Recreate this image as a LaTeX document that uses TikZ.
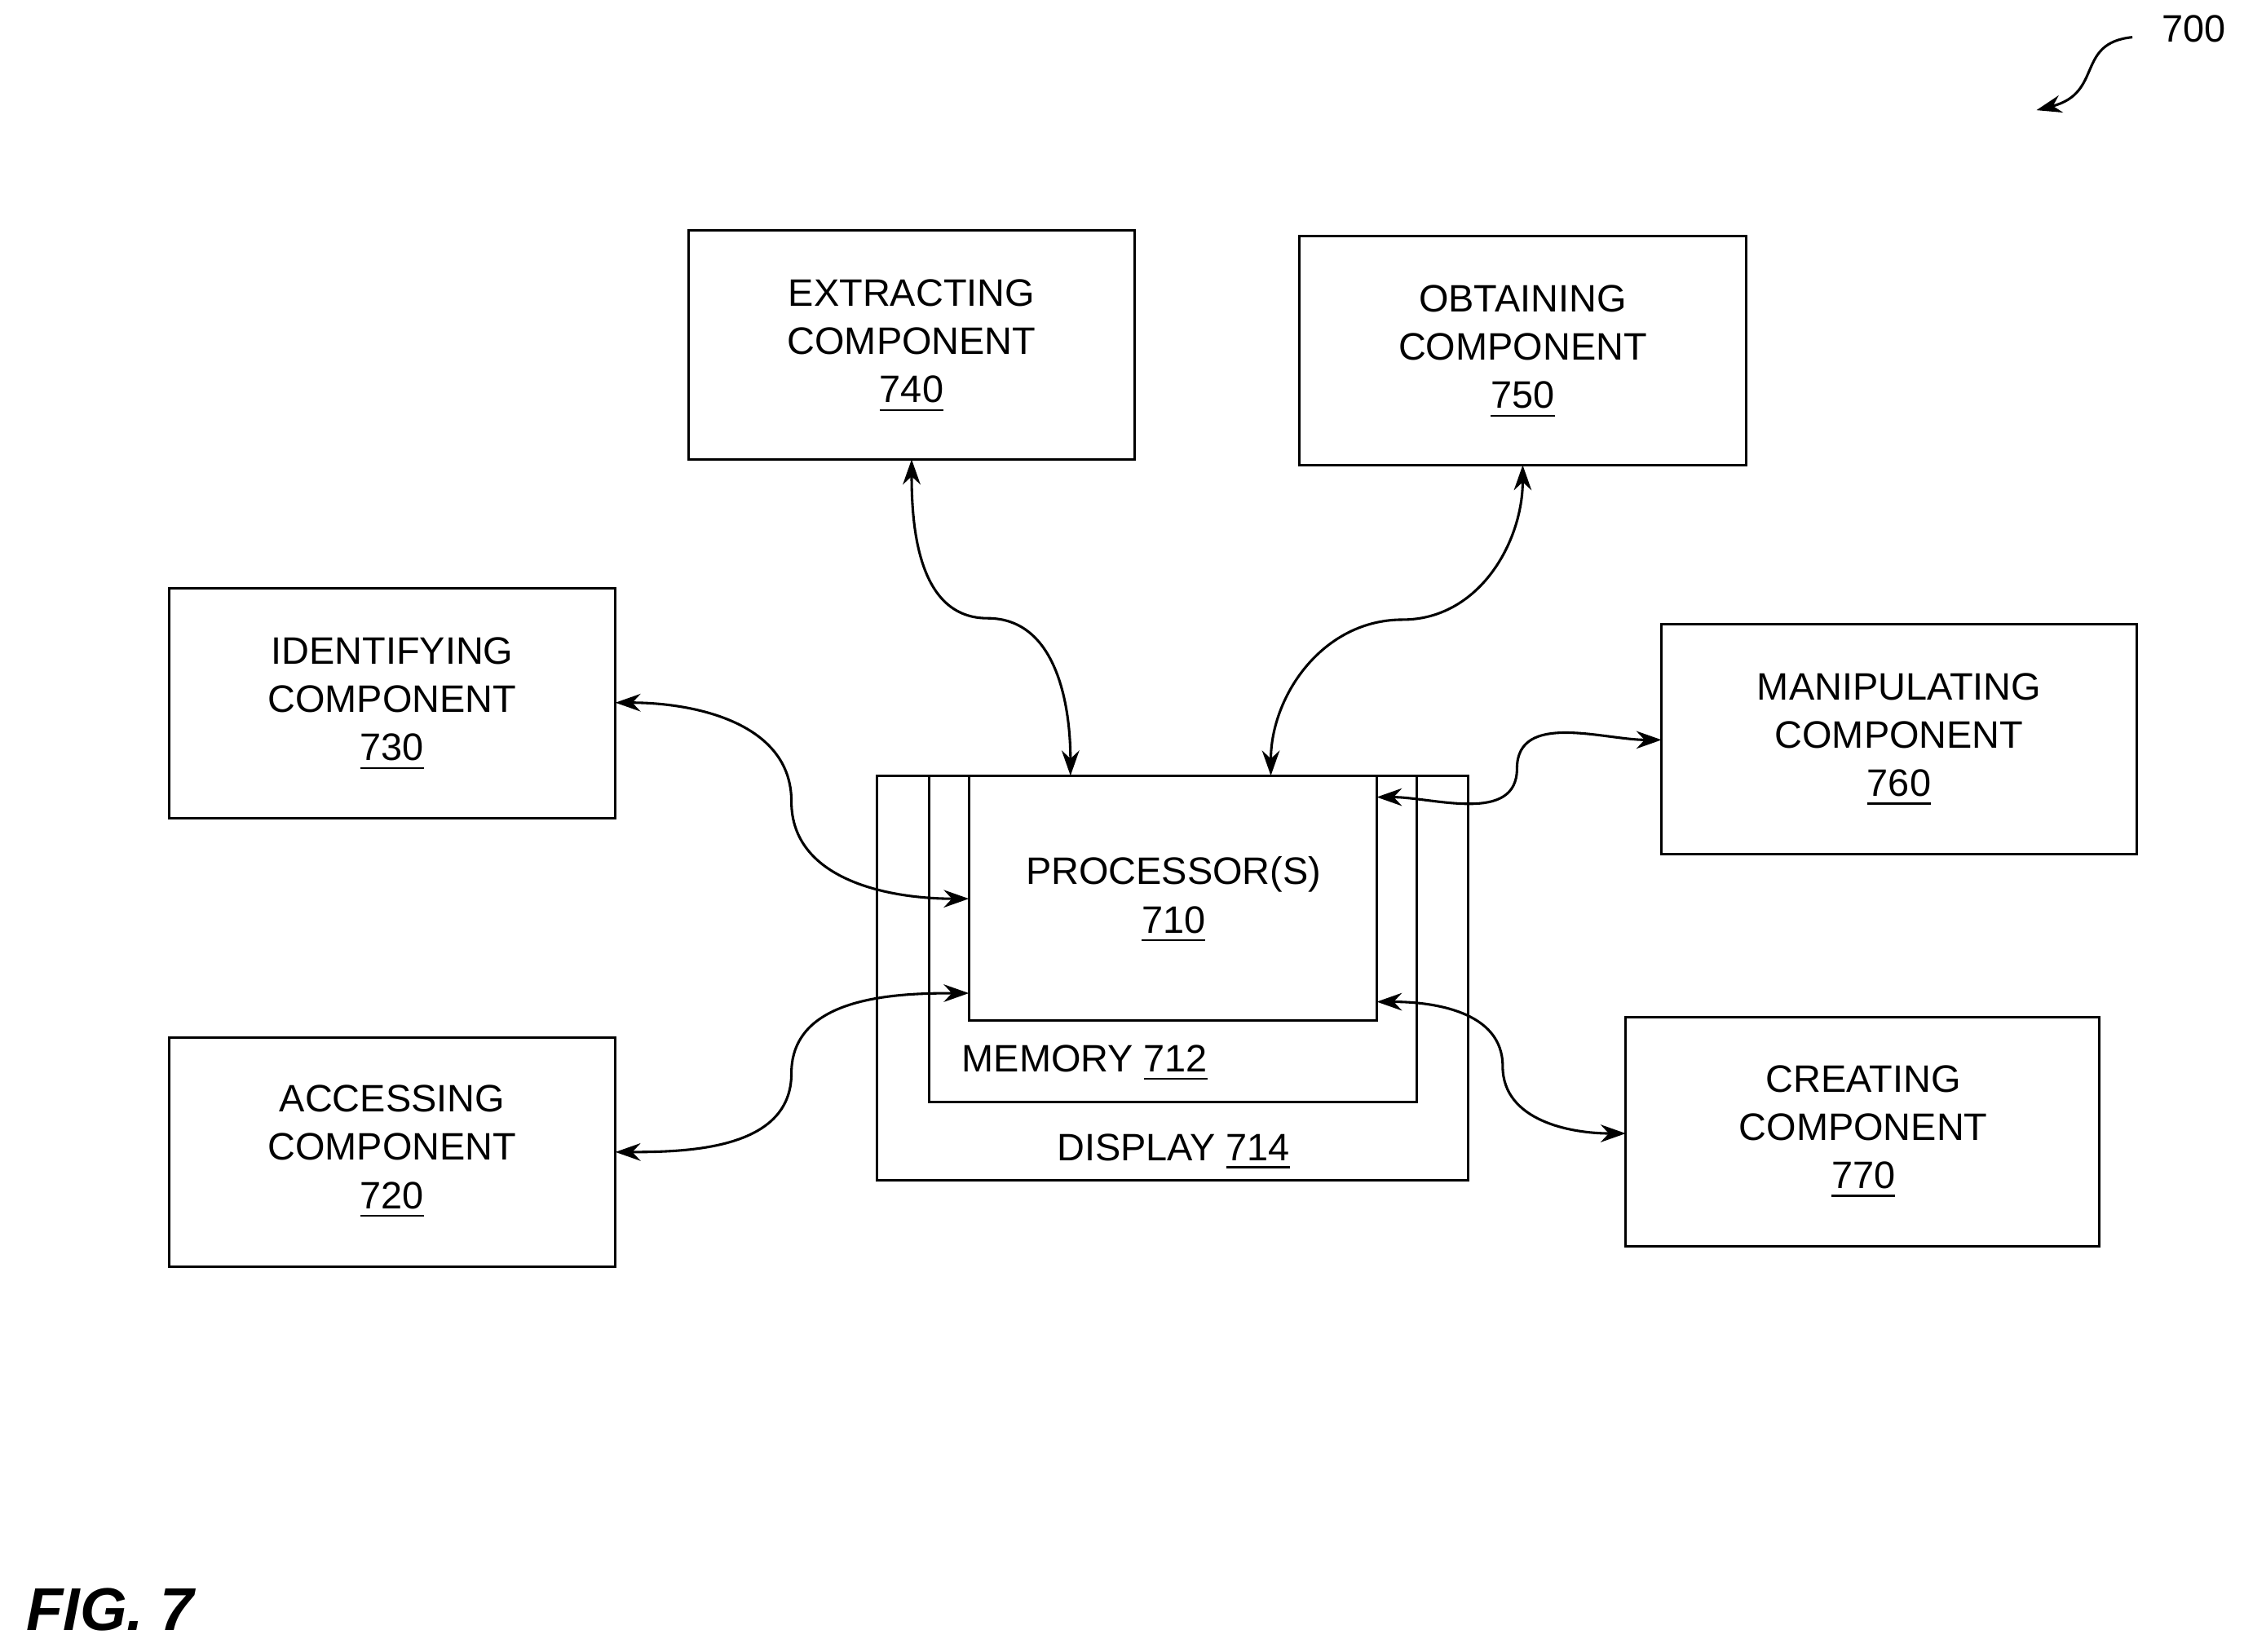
\documentclass[tikz,border=0pt]{standalone}
\usepackage{fontspec}
\setmainfont{Liberation Sans}
\usetikzlibrary{arrows.meta}
\begin{document}
\begin{tikzpicture}[x=0.1mm,y=-0.1mm,
  box/.style={draw,line width=0.5pt,inner sep=0},
  txt/.style={align=center,font=\fontsize{7.6}{9.6}\selectfont},
  con/.style={line width=0.5pt,{Stealth[length=5pt,width=3.5pt]}-{Stealth[length=5pt,width=3.5pt]}}]
\useasboundingbox (0,0) rectangle (1568,1154);
\draw[box] (613,542) rectangle (1026,825);
\draw[box] (649,542) rectangle (990,770);
\draw[box] (677,542) rectangle (962,713);
\node[txt] (p) at (820,629) {PROCESSOR(S)\\\underline{710}};
\node[txt] (m) at (758,743) {MEMORY \underline{712}};
\node[txt] (d) at (820,805) {DISPLAY \underline{714}};
\draw[box] (481,161) rectangle (793,321); \node[txt] (b740) at (637,242) {EXTRACTING\\COMPONENT\\\underline{740}};
\draw[box] (908,165) rectangle (1220,325); \node[txt] (b750) at (1064,246) {OBTAINING\\COMPONENT\\\underline{750}};
\draw[box] (118,411) rectangle (430,572); \node[txt] (b730) at (274,492) {IDENTIFYING\\COMPONENT\\\underline{730}};
\draw[box] (1161,436) rectangle (1493,597); \node[txt] (b760) at (1327,517) {MANIPULATING\\COMPONENT\\\underline{760}};
\draw[box] (118,725) rectangle (430,885); \node[txt] (b720) at (274,805) {ACCESSING\\COMPONENT\\\underline{720}};
\draw[box] (1136,711) rectangle (1467,871); \node[txt] (b770) at (1302,791) {CREATING\\COMPONENT\\\underline{770}};
\coordinate (a740) at (637,321); \coordinate (m740) at (690,432); \coordinate (p740) at (748,542);
\coordinate (a750) at (1064,325); \coordinate (m750) at (980,433); \coordinate (p750) at (888,542);
\coordinate (a730) at (430,491); \coordinate (m730) at (553,560); \coordinate (p730) at (677,628);
\coordinate (a720) at (430,805); \coordinate (m720) at (553,750); \coordinate (p720) at (677,694);
\coordinate (a760) at (1161,517); \coordinate (m760) at (1060,537); \coordinate (p760) at (962,557);
\coordinate (a770) at (1136,792); \coordinate (m770) at (1050,745); \coordinate (p770) at (962,700);
\draw[con] (a740) to[out=-90,in=180] (m740) to[out=0,in=90] (p740);
\draw[con] (a750) to[out=-90,in=0] (m750) to[out=180,in=90] (p750);
\draw[con] (a730) to[out=0,in=90] (m730) to[out=-90,in=180] (p730);
\draw[con] (a720) to[out=0,in=-90] (m720) to[out=90,in=180] (p720);
\draw[con] (a760) to[out=180,in=90] (m760) to[out=-90,in=0] (p760);
\draw[con] (a770) to[out=180,in=-90] (m770) to[out=90,in=0] (p770);
\node[txt] (n700) at (1533,20) {700};
\coordinate (s700) at (1490,26); \coordinate (e700) at (1423,77);
\draw[line width=0.5pt,-{Stealth[length=5pt,width=3.5pt]}] (s700) .. controls (1450,30) and (1470,65) .. (e700);
\node[font=\fontsize{12}{14}\selectfont\bfseries\itshape] (fig) at (77,1125) {FIG. 7};
\end{tikzpicture}
\end{document}
